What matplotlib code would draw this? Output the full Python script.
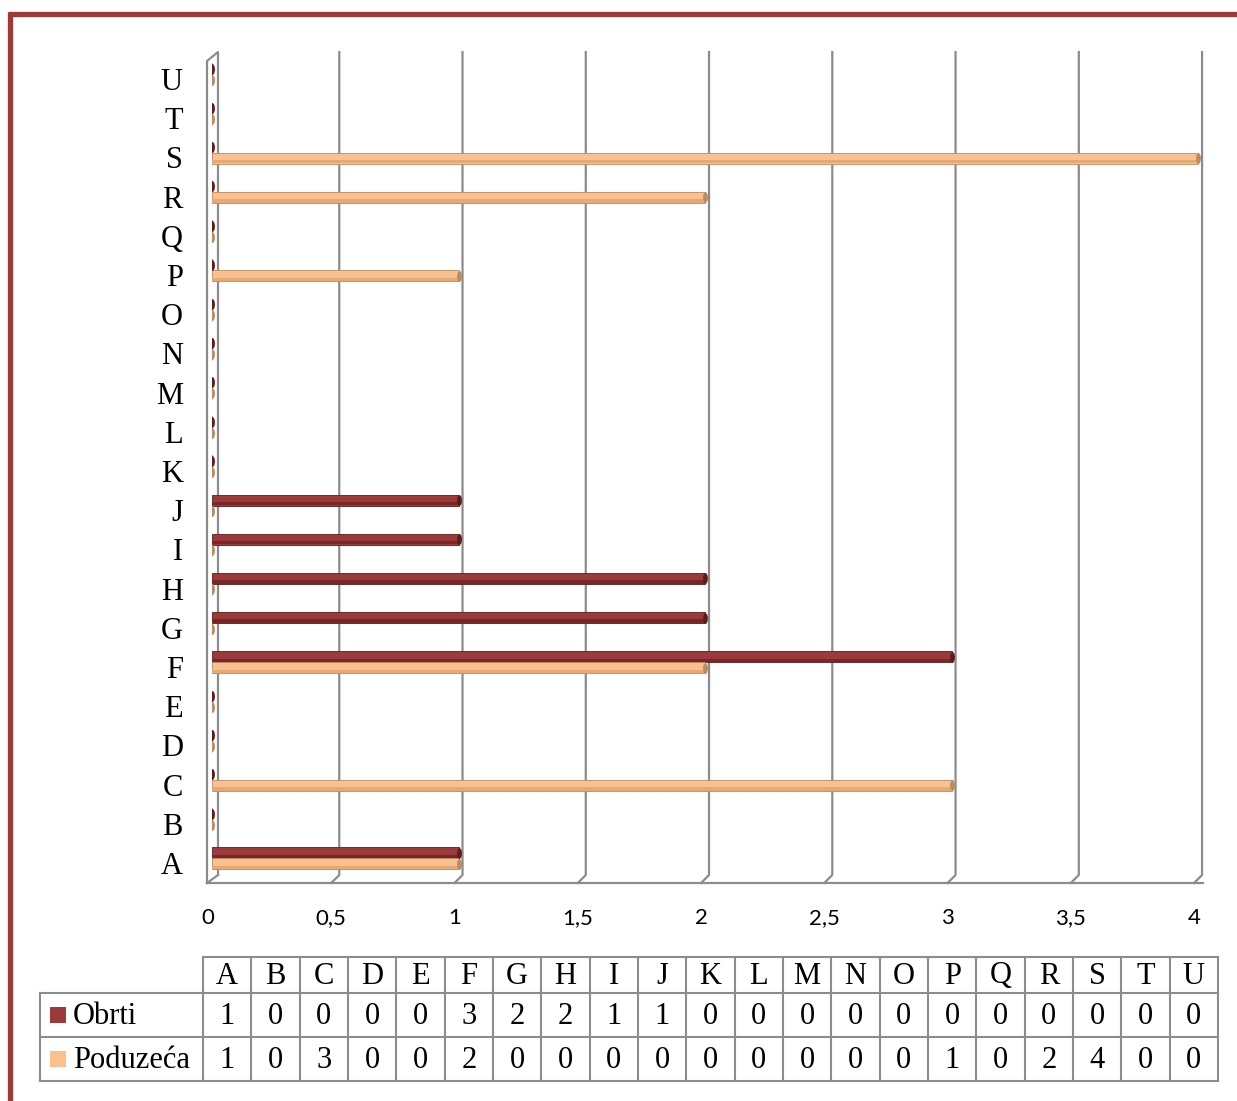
import matplotlib
matplotlib.use('Agg')
import matplotlib.pyplot as plt
import matplotlib.transforms as mtrans
import numpy as np

# data
categories = ['A', 'B', 'C', 'D', 'E', 'F', 'G', 'H', 'I', 'J', 'K',
              'L', 'M', 'N', 'O', 'P', 'Q', 'R', 'S', 'T', 'U']
obrti = [1, 0, 0, 0, 0, 3, 2, 2, 1, 1, 0, 0, 0, 0, 0, 0, 0, 0, 0, 0, 0]
poduzeca = [1, 0, 3, 0, 0, 2, 0, 0, 0, 0, 0, 0, 0, 0, 0, 1, 0, 2, 4, 0, 0]
series_names = ['Obrti', 'Poduzeća']
xticks = [0, 0.5, 1, 1.5, 2, 2.5, 3, 3.5, 4]
xtick_labels = ['0', '0,5', '1', '1,5', '2', '2,5', '3', '3,5', '4']

red = '#9b3a3a'
red_dark = '#5e1c1c'
orange = '#fac090'
orange_dark = '#b98c62'
grid_col = '#8c8c8c'
border_col = '#9b3a38'
serif = ['Liberation Serif', 'DejaVu Serif']
fs = 22

W, H = 1237, 1101
fig = plt.figure(figsize=(W / 100, H / 100), dpi=100)


def fbox(l, t, r, b):
    return [l / W, 1 - b / H, (r - l) / W, (b - t) / H]


ax = fig.add_axes(fbox(212, 52, 1203, 883))
xmax = 4.02
ax.set_xlim(0, xmax)
ax.set_ylim(-0.51, 20.69)
px = xmax / 991.0  # data units per pixel

y = np.arange(len(categories))
h = 0.28
y_red = y + 0.26
y_or = y - 0.02

# gridlines on the back wall with little floor diagonals
ylo, yhi = ax.get_ylim()
ypx = (yhi - ylo) / 831.0
for xv in xticks[1:]:
    ax.plot([xv + 4 * px, xv + 4 * px, xv - 4 * px],
            [yhi, ylo + 8 * ypx, ylo], color=grid_col, lw=1.6, zorder=1,
            clip_on=False)
# left wall
ax.plot([-5 * px, -5 * px, 6 * px, 6 * px],
        [ylo, yhi - 9 * ypx, yhi, ylo + 8 * ypx], color=grid_col, lw=1.6,
        zorder=1, clip_on=False)
ax.plot([6 * px, -5 * px], [ylo + 8 * ypx, ylo], color=grid_col, lw=1.6,
        zorder=1, clip_on=False)
# floor
ax.plot([-5 * px, xmax], [ylo, ylo], color=grid_col, lw=1.6, zorder=1,
        clip_on=False)

# bars
ax.barh(y_red, obrti, height=h, color=red, edgecolor=red_dark, lw=0.6, zorder=3)
ax.barh(y_red - h * 0.32, obrti, height=h * 0.3, color='#7a2626', lw=0, zorder=3)
ax.barh(y_or, poduzeca, height=h, color=orange, edgecolor=orange_dark, lw=0.6, zorder=3)
ax.barh(y_or - h * 0.32, poduzeca, height=h * 0.3, color='#e8a874', lw=0, zorder=3)

# cylinder end caps (also the dots for zero values)
t = np.linspace(0, 2 * np.pi, 40)
ell = np.column_stack([0.45 * np.cos(t), np.sin(t)])
ax.scatter(obrti, y_red, marker=ell, s=60, color=red_dark, lw=0, zorder=4)
ax.scatter(poduzeca, y_or, marker=ell, s=60, color=orange_dark, lw=0, zorder=4)

for s in ax.spines.values():
    s.set_visible(False)
ax.set_xticks(xticks)
ax.set_xticklabels(xtick_labels, fontsize=16, family=['Lato', 'DejaVu Sans'])
ax.set_yticks(y)
ax.set_yticklabels(categories, fontsize=fs, family=serif)
ax.tick_params(axis='x', length=0, pad=18)
ax.tick_params(axis='y', length=0, pad=21)
shift = mtrans.ScaledTranslation(-4 / 100, 0, fig.dpi_scale_trans)
for lab in ax.get_xticklabels():
    lab.set_transform(lab.get_transform() + shift)

# overlay for border and data table
ov = fig.add_axes([0, 0, 1, 1], zorder=5)
ov.set_xlim(0, W)
ov.set_ylim(H, 0)
ov.axis('off')
ov.patch.set_alpha(0)

ov.plot([8, W], [14, 14], color=border_col, lw=3.8, solid_capstyle='butt')
ov.plot([10, 10], [12, H], color=border_col, lw=3.8, solid_capstyle='butt')

tl, t0, tr = 40, 203, 1218
rows = [957, 993, 1037, 1081]
cw = (tr - t0) / len(categories)
lc = '#8c8c8c'
ov.plot([t0, tr], [rows[0], rows[0]], color=lc, lw=1.5)
for r in rows[1:]:
    ov.plot([tl, tr], [r, r], color=lc, lw=1.5)
ov.plot([tl, tl], [rows[1], rows[3]], color=lc, lw=1.5)
for i in range(len(categories) + 1):
    ov.plot([t0 + i * cw, t0 + i * cw], [rows[0], rows[3]], color=lc, lw=1.5)

for i, c in enumerate(categories):
    xc = t0 + (i + 0.5) * cw
    ov.text(xc, (rows[0] + rows[1]) / 2 + 1, c, ha='center', va='center',
            fontsize=fs, family=serif)
    ov.text(xc, (rows[1] + rows[2]) / 2 + 1, str(obrti[i]), ha='center',
            va='center', fontsize=fs, family=serif)
    ov.text(xc, (rows[2] + rows[3]) / 2 + 1, str(poduzeca[i]), ha='center',
            va='center', fontsize=fs, family=serif)

for k, (name, col) in enumerate(zip(series_names, [red, orange])):
    yc = (rows[k + 1] + rows[k + 2]) / 2
    ov.add_patch(plt.Rectangle((50, yc - 8), 16, 16, color=col, lw=0))
    ov.text(73, yc + 1, name, ha='left', va='center', fontsize=fs, family=serif)

fig.savefig('out.png', dpi=100)
